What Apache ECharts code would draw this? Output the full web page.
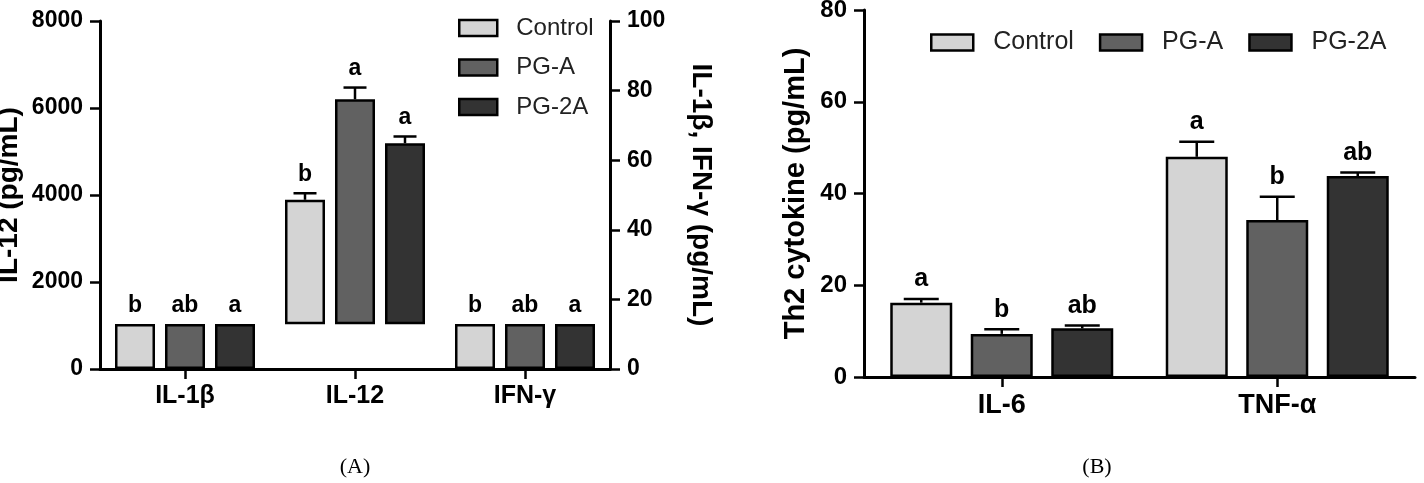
<!DOCTYPE html>
<html><head><meta charset="utf-8">
<script src="https://cdn.jsdelivr.net/npm/echarts@6/dist/echarts.min.js"></script>
<style>html,body{margin:0;padding:0;background:#fff}#c{width:1424px;height:483px}</style>
</head><body><div id="c"></div>
<script>
// ---------- data ----------
const groupNames = ['Control', 'PG-A', 'PG-2A'];

// Panel A
const categoriesA = ['IL-1β', 'IL-12', 'IFN-γ'];
const il1bValues = [12.9, 12.9, 12.9];      // right axis (pg/mL)
const ifngValues = [12.9, 12.9, 12.9];      // right axis (pg/mL)
const il1bLetters = ['b', 'ab', 'a'];
const ifngLetters = ['b', 'ab', 'a'];
const il12Values = [3890, 6200, 5190];      // left axis (pg/mL)
const il12Errors = [150, 270, 155];
const il12Letters = ['b', 'a', 'a'];
const il12Floor = 1030;                     // IL-12 bars start from this level in the figure
const leftTicksA = [0, 2000, 4000, 6000, 8000];
const rightTicksA = [0, 20, 40, 60, 80, 100];

// Panel B
const categoriesB = ['IL-6', 'TNF-α'];
const il6Values = [16.2, 9.4, 10.6];
const il6Errors = [0.8, 1.0, 0.6];
const il6Letters = ['a', 'b', 'ab'];
const tnfValues = [48.0, 34.2, 43.8];
const tnfErrors = [3.3, 5.1, 0.8];
const tnfLetters = ['a', 'b', 'ab'];
const ticksB = [0, 20, 40, 60, 80];

// ---------- style ----------
const groupColors = ['#d4d4d4', '#616161', '#333333'];
const FONT = '"Liberation Sans", Arial, Helvetica, sans-serif';
const BAR_A = 40, GAP_A = 10;
const BAR_B = 62, GAP_B = 18.5;

function barStyle(g) {
  return { color: groupColors[g], borderColor: '#000', borderWidth: 2.5 };
}

function annot(letters, barW, gapPx, capW, fontPx) {
  return function (params, api) {
    const c = api.value(0), g = api.value(1), v = api.value(2), e = api.value(3);
    const top = api.coord([c, v]);
    const cap = api.coord([c, v + e]);
    const x = top[0] + (g - 1) * (barW + gapPx);
    const children = [];
    if (e > 0) {
      children.push({ type: 'line', shape: { x1: x, y1: top[1], x2: x, y2: cap[1] },
        style: { stroke: '#000', lineWidth: 2.5 } });
      children.push({ type: 'line', shape: { x1: x - capW / 2, y1: cap[1], x2: x + capW / 2, y2: cap[1] },
        style: { stroke: '#000', lineWidth: 2.5 } });
    }
    children.push({ type: 'text', x: x, y: cap[1] - 7,
      style: { text: letters[params.dataIndex], textAlign: 'center', textVerticalAlign: 'bottom',
        font: 'bold ' + fontPx + 'px ' + FONT, fill: '#000' } });
    return { type: 'group', children: children };
  };
}

// ---------- series ----------
const series = [];
// IL-1β / IFN-γ bars on right axis
groupNames.forEach(function (name, g) {
  series.push({ name: name, type: 'bar', xAxisIndex: 0, yAxisIndex: 1, stack: 'A' + g,
    data: [il1bValues[g], null, ifngValues[g]], barWidth: BAR_A, barGap: (GAP_A / BAR_A * 100) + '%',
    itemStyle: barStyle(g), emphasis: { disabled: true } });
});
// invisible floor for IL-12 bars
groupNames.forEach(function (name, g) {
  series.push({ name: 'floor ' + name, type: 'bar', xAxisIndex: 0, yAxisIndex: 0, stack: 'A' + g,
    data: [null, il12Floor, null], barWidth: BAR_A, silent: true,
    itemStyle: { color: 'rgba(0,0,0,0)', borderWidth: 0 }, emphasis: { disabled: true } });
});
// IL-12 bars on left axis
groupNames.forEach(function (name, g) {
  series.push({ name: name, type: 'bar', xAxisIndex: 0, yAxisIndex: 0, stack: 'A' + g,
    data: [null, il12Values[g] - il12Floor, null], barWidth: BAR_A,
    itemStyle: barStyle(g), emphasis: { disabled: true } });
});
// Panel B bars
groupNames.forEach(function (name, g) {
  series.push({ name: name, type: 'bar', xAxisIndex: 1, yAxisIndex: 2,
    data: [il6Values[g], tnfValues[g]], barWidth: BAR_B, barGap: (GAP_B / BAR_B * 100) + '%',
    itemStyle: barStyle(g), emphasis: { disabled: true } });
});

// annotations
const annARightData = [], annARightLetters = [];
groupNames.forEach(function (n, g) {
  annARightData.push([0, g, il1bValues[g], 0]); annARightLetters.push(il1bLetters[g]);
});
groupNames.forEach(function (n, g) {
  annARightData.push([2, g, ifngValues[g], 0]); annARightLetters.push(ifngLetters[g]);
});
const annALeftData = groupNames.map(function (n, g) { return [1, g, il12Values[g], il12Errors[g]]; });
const annBData = [], annBLetters = [];
groupNames.forEach(function (n, g) { annBData.push([0, g, il6Values[g], il6Errors[g]]); annBLetters.push(il6Letters[g]); });
groupNames.forEach(function (n, g) { annBData.push([1, g, tnfValues[g], tnfErrors[g]]); annBLetters.push(tnfLetters[g]); });

series.push({ type: 'custom', xAxisIndex: 0, yAxisIndex: 1, data: annARightData, encode: { x: 0, y: 2 },
  renderItem: annot(annARightLetters, BAR_A, GAP_A, 22, 23), silent: true, z: 5 });
series.push({ type: 'custom', xAxisIndex: 0, yAxisIndex: 0, data: annALeftData, encode: { x: 0, y: 2 },
  renderItem: annot(il12Letters, BAR_A, GAP_A, 23, 23), silent: true, z: 5 });
series.push({ type: 'custom', xAxisIndex: 1, yAxisIndex: 2, data: annBData, encode: { x: 0, y: 2 },
  renderItem: annot(annBLetters, BAR_B, GAP_B, 35, 25), silent: true, z: 5 });

// ---------- axes ----------
const axisLine = { show: true, onZero: false, lineStyle: { color: '#000', width: 3 } };
const axisTick = { show: true, inside: false, length: 10, lineStyle: { color: '#000', width: 2.5 } };

function valueAxis(grid, ticks, pos, name, nameGap, nameSize, labelSize, nameRotate) {
  const ax = {
    type: 'value', gridIndex: grid, position: pos,
    min: ticks[0], max: ticks[ticks.length - 1], interval: ticks[1] - ticks[0],
    axisLine: axisLine, axisTick: axisTick, splitLine: { show: false },
    axisLabel: { color: '#000', fontWeight: 'bold', fontSize: labelSize, fontFamily: FONT, margin: 17,
      formatter: function (v) { return String(v); } },
    name: name, nameLocation: 'middle', nameGap: nameGap,
    nameTextStyle: { color: '#000', fontWeight: 'bold', fontSize: nameSize, fontFamily: FONT }
  };
  if (nameRotate !== undefined) ax.nameRotate = nameRotate;
  return ax;
}

const option = {
  animation: false,
  grid: [
    { left: 100, top: 21, width: 510, height: 348, outerBoundsMode: 'none', containLabel: false },
    { left: 864, top: 10, width: 551, height: 367, outerBoundsMode: 'none', containLabel: false }
  ],
  xAxis: [
    { type: 'category', gridIndex: 0, data: categoriesA, axisLine: axisLine,
      axisTick: { show: true, alignWithLabel: true, length: 10, lineStyle: { color: '#000', width: 2.5 } },
      axisLabel: { color: '#000', fontWeight: 'bold', fontSize: 25, fontFamily: FONT, margin: 15 } },
    { type: 'category', gridIndex: 1, data: categoriesB, axisLine: axisLine,
      axisTick: { show: true, alignWithLabel: true, length: 10, lineStyle: { color: '#000', width: 2.5 } },
      axisLabel: { color: '#000', fontWeight: 'bold', fontSize: 27, fontFamily: FONT, margin: 15 } }
  ],
  yAxis: [
    valueAxis(0, leftTicksA, 'left', 'IL-12 (pg/mL)', 77, 28, 23),
    valueAxis(0, rightTicksA, 'right', 'IL-1β, IFN-γ (pg/mL)', 77, 28, 23, -90),
    valueAxis(1, ticksB, 'left', 'Th2 cytokine (pg/mL)', 54, 29, 24)
  ],
  legend: [
    { orient: 'vertical', left: 453, top: 11, itemWidth: 38, itemHeight: 16, itemGap: 15.5,
      data: groupNames, icon: 'rect', selectedMode: false,
      itemStyle: { borderColor: '#000', borderWidth: 2.5 },
      textStyle: { fontSize: 24, color: '#222', fontFamily: FONT, padding: [0, 0, 0, 14] } },
    { orient: 'horizontal', left: 925, top: 25, itemWidth: 42, itemHeight: 16, itemGap: 25,
      data: groupNames, icon: 'rect', selectedMode: false,
      itemStyle: { borderColor: '#000', borderWidth: 2.5 },
      textStyle: { fontSize: 25, color: '#222', fontFamily: FONT, padding: [0, 0, 0, 15] } }
  ],
  graphic: [
    { type: 'text', x: 355, y: 467, style: { text: '(A)', font: '22px "Liberation Serif", "Times New Roman", serif',
      textAlign: 'center', textVerticalAlign: 'middle', fill: '#000' } },
    { type: 'text', x: 1097, y: 467, style: { text: '(B)', font: '22px "Liberation Serif", "Times New Roman", serif',
      textAlign: 'center', textVerticalAlign: 'middle', fill: '#000' } }
  ],
  series: series
};

const chart = echarts.init(document.getElementById('c'), null, { renderer: 'canvas' });
chart.setOption(option);
</script>
</body></html>
